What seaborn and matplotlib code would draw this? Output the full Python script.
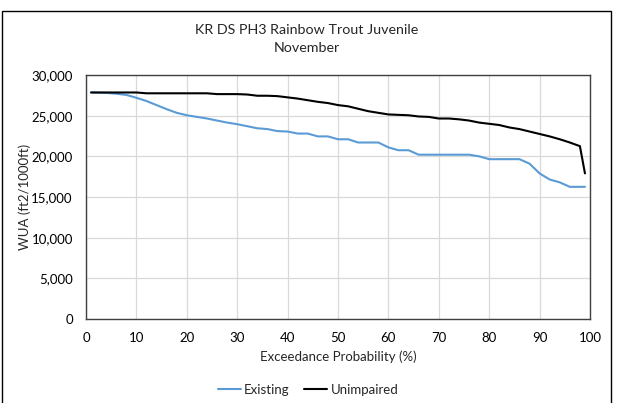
import matplotlib
matplotlib.use("Agg")
import matplotlib.pyplot as plt
import seaborn as sns
import pandas as pd
from matplotlib.patches import Rectangle
from matplotlib.lines import Line2D
from matplotlib.ticker import FuncFormatter, MultipleLocator

prob = [1, 4, 6, 8, 10, 12, 14, 16, 18, 20, 22, 24, 26, 28, 30, 32, 34, 36, 38, 40,
        42, 44, 46, 48, 50, 52, 54, 56, 58, 60, 62, 64, 66, 68, 70, 72, 74, 76, 78, 80,
        82, 84, 86, 88, 90, 92, 94, 96, 98, 99]
existing = [27850, 27800, 27700, 27550, 27200, 26800, 26300, 25800, 25350, 25050,
            24850, 24650, 24400, 24150, 23950, 23700, 23450, 23350, 23100, 23050,
            22800, 22800, 22450, 22450, 22100, 22100, 21700, 21700, 21700, 21100,
            20750, 20750, 20200, 20200, 20200, 20200, 20200, 20200, 20000, 19650,
            19650, 19650, 19650, 19100, 17900, 17150, 16800, 16250, 16250, 16250]
unimpaired = [27850, 27850, 27850, 27850, 27850, 27750, 27750, 27750, 27750, 27750,
              27750, 27750, 27650, 27650, 27650, 27600, 27450, 27450, 27400, 27250,
              27100, 26900, 26700, 26550, 26300, 26150, 25850, 25550, 25350, 25150,
              25100, 25050, 24900, 24850, 24650, 24650, 24550, 24400, 24150, 24000,
              23850, 23550, 23350, 23050, 22750, 22450, 22100, 21700, 21250, 17900]

title_lines = ["KR DS PH3 Rainbow Trout Juvenile", "November"]
series_names = ["Existing", "Unimpaired"]
colors = {"Existing": "#5B9BD5", "Unimpaired": "#000000"}

df = pd.DataFrame({
    "Exceedance": prob * 2,
    "WUA": existing + unimpaired,
    "Series": ["Existing"] * len(prob) + ["Unimpaired"] * len(prob),
})

sns.set_theme(style="white")
plt.rcParams["font.family"] = ["Lato", "DejaVu Sans"]

fig = plt.figure(figsize=(6.21, 4.03), dpi=100)
W, H = 621, 403
ax = fig.add_axes([86 / W, 1 - 319 / H, (590 - 86) / W, (319 - 75) / H])

sns.lineplot(data=df, x="Exceedance", y="WUA", hue="Series", hue_order=series_names,
             palette=colors, ax=ax, linewidth=1.5, legend=False)

ax.set_xlim(0, 100)
ax.set_ylim(0, 30000)
ax.xaxis.set_major_locator(MultipleLocator(10))
ax.yaxis.set_major_locator(MultipleLocator(5000))
ax.yaxis.set_major_formatter(FuncFormatter(lambda v, p: f"{int(v):,}"))
ax.grid(True, color="#D9D9D9", linewidth=0.9)
ax.set_axisbelow(True)
for s in ax.spines.values():
    s.set_color("#404040")
    s.set_linewidth(1.0)
    s.set_visible(True)
ax.tick_params(axis="both", length=0, labelsize=9.5, colors="#000000")
ax.tick_params(axis="x", pad=9)
ax.tick_params(axis="y", pad=9.5)
ax.set_xlabel("Exceedance Probability (%)", fontsize=9.5, labelpad=5)
ax.set_ylabel("WUA (ft2/1000ft)", fontsize=9.5, va="center")
ax.yaxis.set_label_coords((25 - 86) / 504, 0.5)

fig.text(307 / W, 1 - 30 / H, title_lines[0], ha="center", va="center", fontsize=10.3)
fig.text(307 / W, 1 - 48 / H, title_lines[1], ha="center", va="center", fontsize=10.3)

handles = [Line2D([], [], color=colors[n], linewidth=1.5) for n in series_names]
fig.legend(handles, series_names, loc="center", bbox_to_anchor=(308 / W, 1 - 390 / H),
           ncol=2, frameon=False, fontsize=9.5, handlelength=1.75, handletextpad=0.25,
           columnspacing=1.1)

fig.patches.append(Rectangle((1.5 / W, -0.02), 609.5 / W, 1.02 - 10.5 / H,
                             transform=fig.transFigure, fill=False,
                             edgecolor="#000000", linewidth=1.0))

fig.savefig("out.png", dpi=100)
